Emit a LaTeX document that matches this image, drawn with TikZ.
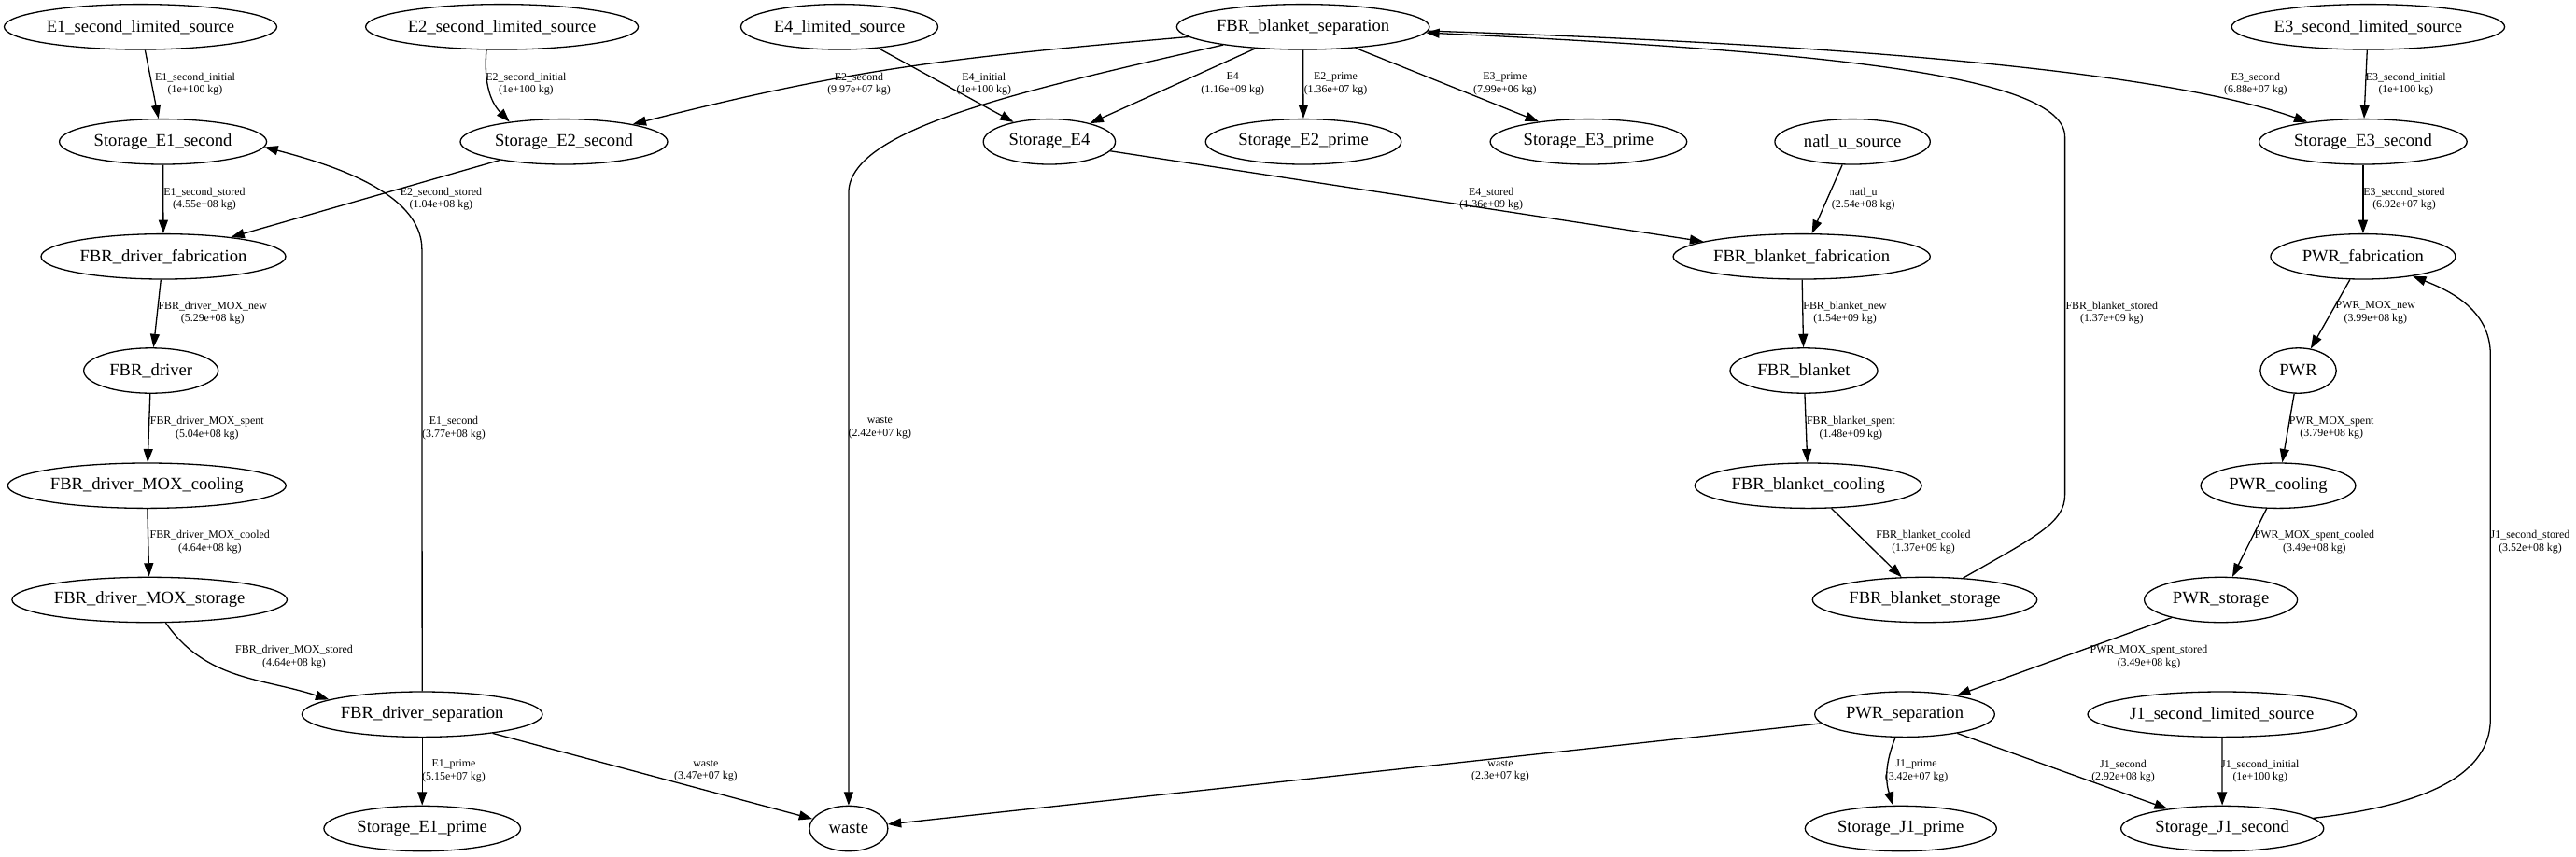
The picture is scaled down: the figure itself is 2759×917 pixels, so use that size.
\documentclass[tikz,border=0pt]{standalone}
\usepackage{fontspec}
\setmainfont{Liberation Serif}
\usetikzlibrary{shapes.geometric,arrows.meta}
\newcommand{\ndfont}{\fontsize{9.3}{11}\selectfont}
\newcommand{\lbfont}{\fontsize{5.95}{6.75}\selectfont}
\tikzset{
  nd/.style={draw, ellipse, inner sep=0pt, minimum height=24.2pt, font=\ndfont, line width=0.65pt},
  edge/.style={-{Triangle[length=7.2pt,width=5pt]}, line width=0.65pt},
  lbl/.style={font=\lbfont, align=center, inner sep=0pt},
}
\begin{document}
\begin{tikzpicture}[x=0.5pt,y=-0.5pt]
\fill[white] (0,0) rectangle (2759,917);
\useasboundingbox (0,0) rectangle (2759,917);
% row 1
\node[nd, minimum width=146pt] (E1s) at (150.5,28.8) {E1\_second\_limited\_source};
\node[nd, minimum width=146pt] (E2s) at (537.6,28.8) {E2\_second\_limited\_source};
\node[nd, minimum width=105.5pt] (E4s) at (899,28.8) {E4\_limited\_source};
\node[nd, minimum width=135.3pt] (FBS) at (1395.6,28.8) {FBR\_blanket\_separation};
\node[nd, minimum width=146.2pt] (E3s) at (2536.4,28.8) {E3\_second\_limited\_source};
% row 2
\node[nd, minimum width=111pt] (SE1) at (174.6,151.8) {Storage\_E1\_second};
\node[nd, minimum width=111pt] (SE2) at (604,151.8) {Storage\_E2\_second};
\node[nd, minimum width=70.7pt] (SE4) at (1123.9,151.8) {Storage\_E4};
\node[nd, minimum width=104.8pt] (SE2p) at (1396,151.8) {Storage\_E2\_prime};
\node[nd, minimum width=105.3pt] (SE3p) at (1701.4,151.8) {Storage\_E3\_prime};
\node[nd, minimum width=83.2pt] (natl) at (1984.1,151.8) {natl\_u\_source};
\node[nd, minimum width=111.3pt] (SE3) at (2530.9,151.8) {Storage\_E3\_second};
% row 3
\node[nd, minimum width=131pt] (FDF) at (175,274.8) {FBR\_driver\_fabrication};
\node[nd, minimum width=137.6pt] (FBF) at (1929.7,274.8) {FBR\_blanket\_fabrication};
\node[nd, minimum width=99pt] (PF) at (2530.9,274.8) {PWR\_fabrication};
% row 4
\node[nd, minimum width=72pt] (FD) at (161.7,397) {FBR\_driver};
\node[nd, minimum width=79pt] (FB) at (1932,397) {FBR\_blanket};
\node[nd, minimum width=40.7pt] (PWR) at (2461.5,397) {PWR};
% row 5
\node[nd, minimum width=149pt] (FDC) at (157.3,520.2) {FBR\_driver\_MOX\_cooling};
\node[nd, minimum width=121.4pt] (FBC) at (1936.7,520.2) {FBR\_blanket\_cooling};
\node[nd, minimum width=82.9pt] (PC) at (2440,520.2) {PWR\_cooling};
% row 6
\node[nd, minimum width=147.3pt] (FDS) at (160.2,642.5) {FBR\_driver\_MOX\_storage};
\node[nd, minimum width=120.2pt] (FBSt) at (2061.5,642.5) {FBR\_blanket\_storage};
\node[nd, minimum width=82pt] (PS) at (2378.6,642.5) {PWR\_storage};
% row 7
\node[nd, minimum width=128.8pt] (FDSep) at (452.2,765.2) {FBR\_driver\_separation};
\node[nd, minimum width=96.3pt] (PSep) at (2040,765.2) {PWR\_separation};
\node[nd, minimum width=143.8pt] (J1s) at (2379.8,765.2) {J1\_second\_limited\_source};
% row 8
\node[nd, minimum width=105.3pt] (SE1p) at (452.2,887.5) {Storage\_E1\_prime};
\node[nd, minimum width=42pt] (waste) at (908.9,887.5) {waste};
\node[nd, minimum width=102.5pt] (SJ1p) at (2035.8,887.5) {Storage\_J1\_prime};
\node[nd, minimum width=108.6pt] (SJ1) at (2380.2,887.5) {Storage\_J1\_second};

% helper coordinates
\coordinate (wbend) at (908.9,206.7);
\coordinate (bsA) at (2211.6,530);
\coordinate (bsB) at (2211.6,146.7);
\coordinate (jA) at (2667.3,770);
\coordinate (jB) at (2667.3,380);
\coordinate (e1A) at (451.9,267);

% edges
\draw[edge] (E1s) -- (SE1);
\draw[edge] (E2s.-124) to[out=-95,in=134] (SE2.160);
\draw[edge] (FBS) .. controls (1015,62) and (912,73.7) .. (SE2);
\draw[edge] (E4s) -- (SE4);
\draw[edge] (FBS) .. controls (1080,100) and (908.9,140) .. (wbend) -- (waste);
\draw[edge] (FBS) -- (SE4);
\draw[edge] (FBS) -- (SE2p);
\draw[edge] (FBS) -- (SE3p);
\draw[edge] (FBS) .. controls (1900,45) and (2300,70) .. (SE3);
\draw[edge] (FBSt) .. controls (2180,575) and (2211.6,560) .. (bsA) -- (bsB) .. controls (2211.6,80) and (1950,55) .. (FBS);
\draw[edge] (natl) -- (FBF);
\draw[edge] (SE4) -- (FBF);
\draw[edge] (E3s) -- (SE3);
\draw[edge] (SE3) -- (PF);
\draw[edge] (PF) -- (PWR);
\draw[edge] (PWR) -- (PC);
\draw[edge] (PC) -- (PS);
\draw[edge] (PS) -- (PSep);
\draw[edge] (PSep) -- (waste);
\draw[edge] (PSep) to[bend right=20] (SJ1p);
\draw[edge] (PSep) -- (SJ1);
\draw[edge] (J1s) -- (SJ1);
\draw[edge] (SJ1) .. controls (2620,860) and (2667.3,820) .. (jA) -- (jB) .. controls (2667.3,330) and (2620,310) .. (PF);
\draw[edge] (SE1) -- (FDF);
\draw[edge] (SE2) -- (FDF);
\draw[edge] (FDF) -- (FD);
\draw[edge] (FD) -- (FDC);
\draw[edge] (FDC) -- (FDS);
\draw[edge] (FDS.-55) to[out=-55,in=162] (FDSep.171);
\draw[edge] (FDSep) -- (e1A) .. controls (451.9,205) and (350,175) .. (SE1.-3);
\draw[edge] (FDSep) -- (SE1p);
\draw[edge] (FDSep) -- (waste);
\draw[edge] (FBF) -- (FB);
\draw[edge] (FB) -- (FBC);
\draw[edge] (FBC) -- (FBSt);

% labels
\node[lbl] (L1) at (209,90) {E1\_second\_initial\\(1e+100 kg)};
\node[lbl] (L2) at (563.4,90) {E2\_second\_initial\\(1e+100 kg)};
\node[lbl] (L3) at (920,90) {E2\_second\\(9.97e+07 kg)};
\node[lbl] (L4) at (1053.8,90) {E4\_initial\\(1e+100 kg)};
\node[lbl] (L5) at (1320.2,90) {E4\\(1.16e+09 kg)};
\node[lbl] (L6) at (1430.5,90) {E2\_prime\\(1.36e+07 kg)};
\node[lbl] (L7) at (1611.8,90) {E3\_prime\\(7.99e+06 kg)};
\node[lbl] (L8) at (2415.9,90) {E3\_second\\(6.88e+07 kg)};
\node[lbl] (L9) at (2576.8,90) {E3\_second\_initial\\(1e+100 kg)};
\node[lbl] (L10) at (219,213) {E1\_second\_stored\\(4.55e+08 kg)};
\node[lbl] (L11) at (472.4,213) {E2\_second\_stored\\(1.04e+08 kg)};
\node[lbl] (L12) at (1597.2,213) {E4\_stored\\(1.36e+09 kg)};
\node[lbl] (L13) at (1995.7,213) {natl\_u\\(2.54e+08 kg)};
\node[lbl] (L14) at (2575,213) {E3\_second\_stored\\(6.92e+07 kg)};
\node[lbl] (L15) at (227.7,335) {FBR\_driver\_MOX\_new\\(5.29e+08 kg)};
\node[lbl] (L16) at (1976,335) {FBR\_blanket\_new\\(1.54e+09 kg)};
\node[lbl] (L17) at (2261.8,335) {FBR\_blanket\_stored\\(1.37e+09 kg)};
\node[lbl] (L18) at (2544.3,335) {PWR\_MOX\_new\\(3.99e+08 kg)};
\node[lbl] (L19) at (221.8,458.4) {FBR\_driver\_MOX\_spent\\(5.04e+08 kg)};
\node[lbl] (L20) at (486,458.4) {E1\_second\\(3.77e+08 kg)};
\node[lbl] (L21) at (942.3,458.4) {waste\\(2.42e+07 kg)};
\node[lbl] (L22) at (1982.3,458.4) {FBR\_blanket\_spent\\(1.48e+09 kg)};
\node[lbl] (L23) at (2497.2,458.4) {PWR\_MOX\_spent\\(3.79e+08 kg)};
\node[lbl] (L24) at (224.8,580.7) {FBR\_driver\_MOX\_cooled\\(4.64e+08 kg)};
\node[lbl] (L25) at (2060,580.7) {FBR\_blanket\_cooled\\(1.37e+09 kg)};
\node[lbl] (L26) at (2478.9,580.7) {PWR\_MOX\_spent\_cooled\\(3.49e+08 kg)};
\node[lbl] (L27) at (2710,580.7) {J1\_second\_stored\\(3.52e+08 kg)};
\node[lbl] (L28) at (315,703.7) {FBR\_driver\_MOX\_stored\\(4.64e+08 kg)};
\node[lbl] (L29) at (2301.5,703.7) {PWR\_MOX\_spent\_stored\\(3.49e+08 kg)};
\node[lbl] (L30) at (486,826) {E1\_prime\\(5.15e+07 kg)};
\node[lbl] (L31) at (755.9,826) {waste\\(3.47e+07 kg)};
\node[lbl] (L32) at (1607,826) {waste\\(2.3e+07 kg)};
\node[lbl] (L33) at (2052.6,826) {J1\_prime\\(3.42e+07 kg)};
\node[lbl] (L34) at (2274,826) {J1\_second\\(2.92e+08 kg)};
\node[lbl] (L35) at (2420.8,826) {J1\_second\_initial\\(1e+100 kg)};
\end{tikzpicture}
\end{document}
